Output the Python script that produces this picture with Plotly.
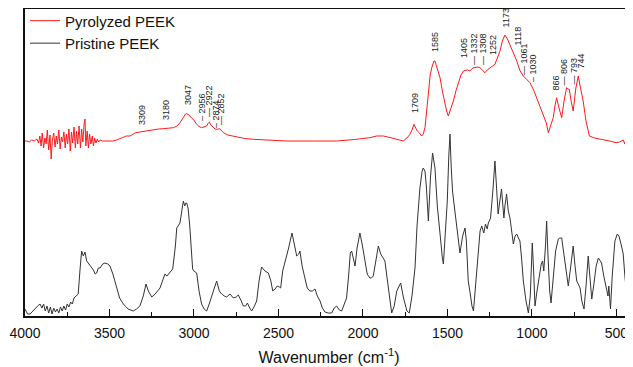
import plotly.graph_objects as go

# ---------------- data (wavenumber, arbitrary offset intensity) ----------------
pristine_wn = [4000, 3985, 3970, 3950, 3925, 3911, 3900, 3890, 3880, 3870, 3860, 3850, 3840, 3830, 3820, 3810,
               3800, 3790, 3780, 3770, 3760, 3750, 3740, 3730, 3720, 3710, 3700, 3685, 3675, 3665, 3655, 3645,
               3635, 3625, 3615, 3605, 3595, 3585, 3576, 3566, 3556, 3540, 3527, 3510, 3497, 3480, 3458, 3440,
               3418, 3390, 3359, 3340, 3320, 3300, 3284, 3270, 3250, 3230, 3201, 3180, 3172, 3160, 3145, 3126,
               3110, 3102, 3083, 3070, 3063, 3055, 3048, 3043, 3035, 3025, 3020, 3008, 3000, 2984, 2970, 2955,
               2940, 2925, 2910, 2895, 2880, 2866, 2850, 2836, 2820, 2807, 2787, 2767, 2750, 2738, 2720, 2708,
               2695, 2684, 2670, 2659, 2645, 2629, 2615, 2600, 2580, 2560, 2545, 2534, 2520, 2507, 2495, 2487,
               2475, 2462, 2440, 2420, 2405, 2392, 2380, 2373, 2360, 2343, 2330, 2314, 2300, 2284, 2270, 2254,
               2240, 2225, 2205, 2185, 2170, 2156, 2140, 2126, 2110, 2097, 2085, 2075, 2067, 2055, 2047, 2035,
               2018, 2005, 1988, 1975, 1959, 1950, 1939, 1925, 1909, 1895, 1880, 1870, 1855, 1840, 1830, 1815,
               1800, 1777, 1760, 1740, 1726, 1710, 1700, 1692, 1680, 1663, 1650, 1643, 1633, 1625, 1613, 1600,
               1588, 1580, 1574, 1560, 1545, 1530, 1524, 1515, 1501, 1492, 1485, 1478, 1470, 1456, 1440, 1426,
               1410, 1396, 1388, 1377, 1365, 1355, 1346, 1335, 1317, 1307, 1297, 1285, 1275, 1265, 1258, 1245,
               1230, 1219, 1210, 1200, 1190, 1180, 1172, 1166, 1160, 1150, 1140, 1130, 1120, 1110, 1100, 1090,
               1080, 1071, 1060, 1051, 1035, 1021, 1010, 998, 990, 982, 970, 953, 945, 937, 930, 920,
               913, 905, 895, 887, 875, 860, 844, 835, 824, 810, 795, 785, 770, 756, 745, 735,
               726, 715, 705, 692, 680, 667, 660, 650, 646, 635, 620, 607, 598, 588, 575, 559,
               550, 545, 535, 525, 509, 495, 485, 470, 460, 450, 440, 430, 420, 410, 402]
pristine_int = [7, 2, 2, 6, 10, 12, 8, 12, 5, 10, 3, 9, 2, 8, 4, 7,
                3, 9, 5, 10, 6, 12, 9, 14, 12, 18, 20, 22, 45, 65, 60, 64,
                55, 53, 50, 48, 46, 42, 43, 48, 48, 52, 53, 52, 50, 42, 28, 18,
                12, 7, 5, 7, 10, 20, 32, 25, 19, 22, 28, 38, 42, 40, 43, 47,
                70, 88, 93, 108, 115, 110, 113, 113, 108, 90, 78, 47, 45, 43, 25, 12,
                7, 5, 12, 20, 30, 35, 25, 22, 20, 19, 22, 18, 19, 21, 15, 10,
                10, 13, 8, 5, 9, 15, 35, 49, 45, 43, 35, 25, 27, 30, 29, 28,
                45, 53, 68, 83, 70, 60, 62, 65, 50, 37, 28, 25, 25, 27, 20, 15,
                8, 4, 3, 3, 8, 10, 6, 5, 12, 18, 40, 63, 65, 55, 50, 68,
                83, 72, 55, 42, 38, 38, 40, 55, 70, 62, 57, 55, 35, 15, 3, 10,
                25, 33, 18, 5, 3, 20, 40, 48, 90, 128, 145, 148, 145, 130, 95, 140,
                163, 155, 148, 110, 80, 58, 52, 80, 115, 160, 182, 150, 125, 105, 85, 63,
                80, 88, 75, 35, 22, 10, 5, 30, 65, 85, 90, 83, 92, 87, 93, 98,
                128, 155, 130, 102, 115, 127, 110, 98, 110, 122, 105, 98, 85, 72, 80, 82,
                78, 75, 55, 35, 15, 3, 20, 73, 45, 10, 25, 45, 52, 55, 45, 70,
                95, 60, 25, 13, 35, 65, 77, 78, 78, 60, 40, 30, 50, 70, 50, 35,
                32, 28, 15, 7, 30, 60, 45, 22, 17, 30, 50, 58, 55, 53, 40, 28,
                20, 30, 7, 40, 75, 82, 80, 70, 62, 40, 22, 40, 47, 42, 38]

pyro_wn = [4000, 3990, 3975, 3960, 3945, 3930, 3920, 3912, 3905, 3898, 3890, 3882, 3875, 3868, 3860, 3852,
           3845, 3838, 3830, 3822, 3815, 3808, 3800, 3792, 3785, 3778, 3770, 3762, 3755, 3748, 3740, 3732,
           3725, 3718, 3710, 3702, 3695, 3688, 3680, 3672, 3665, 3658, 3650, 3645, 3640, 3632, 3625, 3618,
           3610, 3602, 3595, 3588, 3580, 3572, 3565, 3555, 3540, 3520, 3500, 3480, 3458, 3430, 3400, 3379,
           3350, 3320, 3290, 3260, 3241, 3210, 3182, 3150, 3122, 3100, 3083, 3065, 3050, 3043, 3030, 3015,
           3004, 2985, 2970, 2955, 2940, 2925, 2915, 2909, 2900, 2890, 2875, 2862, 2852, 2846, 2835, 2826,
           2800, 2747, 2700, 2649, 2550, 2451, 2300, 2156, 2050, 1959, 1920, 1880, 1840, 1801, 1780, 1761,
           1740, 1722, 1710, 1698, 1688, 1678, 1665, 1653, 1643, 1633, 1623, 1613, 1603, 1593, 1580, 1574,
           1565, 1555, 1544, 1530, 1515, 1505, 1495, 1485, 1475, 1465, 1450, 1436, 1420, 1405, 1396, 1380,
           1367, 1350, 1337, 1320, 1308, 1293, 1278, 1265, 1249, 1235, 1219, 1205, 1189, 1175, 1160, 1145,
           1130, 1110, 1090, 1070, 1051, 1030, 1012, 990, 972, 950, 933, 915, 903, 890, 874, 864,
           854, 840, 824, 810, 795, 787, 779, 768, 756, 740, 726, 715, 697, 680, 660, 630,
           580, 540, 502, 480, 460, 450, 442, 435, 428, 420, 410, 402]
pyro_int = [175, 175, 174, 176, 175, 177, 173, 180, 170, 183, 168, 178, 172, 186, 166, 181,
            157, 176, 183, 169, 180, 172, 186, 167, 179, 174, 184, 168, 182, 172, 187, 165,
            184, 173, 189, 168, 185, 172, 190, 168, 187, 174, 192, 197, 170, 185, 168, 182,
            172, 180, 170, 178, 173, 177, 174, 176, 175, 175, 175, 175, 176, 178, 180, 180,
            183, 184, 185, 185.7, 186, 187, 187.3, 188, 188.3, 190, 193.3, 198, 202, 202.3, 201, 198,
            196.7, 192, 189.5, 188.3, 189, 190, 193, 194, 191, 189, 187, 186.7, 187.5, 187.3, 185, 183.3,
            181, 179, 177.5, 176.7, 175.5, 175, 175, 175, 176.5, 178.3, 180, 180, 178.5, 176.7, 175.5, 175,
            178, 181.7, 186, 191.7, 188, 185, 183, 180, 182, 188.3, 205, 221.7, 240, 248.3, 255, 255,
            250, 245, 238.3, 225, 211.7, 205, 200, 205, 210, 215, 225, 233.3, 241, 245, 245.7, 246,
            245, 248, 248.3, 249, 248.3, 246, 243.3, 246, 248.3, 250, 251.7, 258, 265, 275, 281, 277,
            271.7, 263, 255, 245, 240, 236, 233.3, 226, 218.3, 210, 201.7, 193, 183.3, 190, 198.3, 210,
            218.3, 208, 198.3, 215, 228.3, 227, 226.7, 215, 205, 228, 240, 230, 215, 195, 180, 178,
            176.7, 175, 173.3, 174, 176, 172, 178.3, 170, 182, 174, 183, 180]

peak_labels = ["3309", "3180", "3047", "2956", "2922", "2874", "2852", "1709", "1585", "1405", "1332",
               "1308", "1252", "1173", "1118", "1061", "1030", "866", "806", "793", "744"]
label_prefix = ["", "", "", "– ", "— ", "– ", "— ", "", "", "", "— ",
                "— ", "", "", "", "— ", "– ", "", "— ", "— ", ""]
# label anchor positions (wavenumber) and bottom heights (intensity units)
label_x = [3308, 3166, 3036, 2953, 2911, 2870, 2840, 1692, 1574, 1402, 1343,
           1290, 1231, 1154, 1083, 1047, 994, 858, 811, 757, 710]
label_y = [190, 195, 210, 194, 198, 187, 190, 202, 263, 257, 250,
           250, 260, 288, 270, 240, 233, 225, 230, 230, 247]

series_names = ["Pyrolyzed PEEK", "Pristine PEEK"]
x_ticks = [4000, 3500, 3000, 2500, 2000, 1500, 1000, 500]

FONT = "Liberation Sans, Arial, sans-serif"

fig = go.Figure()
fig.add_trace(go.Scatter(x=pyro_wn, y=pyro_int, mode="lines", name=series_names[0],
                         line=dict(color="#ff1a1a", width=1)))
fig.add_trace(go.Scatter(x=pristine_wn, y=pristine_int, mode="lines", name=series_names[1],
                         line=dict(color="#333333", width=1)))

for lab, pre, lx, ly in zip(peak_labels, label_prefix, label_x, label_y):
    fig.add_annotation(x=lx, y=ly, xref="x", yref="y", text=pre + lab, textangle=-90,
                       showarrow=False, xanchor="center", yanchor="bottom",
                       font=dict(family=FONT, size=9, color="#222"), borderpad=0)

# page has an 8px body margin, so the figure is sized to fill the rest of the window
fig.update_layout(
    width=625, height=359,
    margin=dict(l=17, r=0, t=1, b=51, autoexpand=False),
    paper_bgcolor="white", plot_bgcolor="white",
    font=dict(family=FONT, color="#111"),
    showlegend=True,
    legend=dict(x=0.0, y=1.015, xanchor="left", yanchor="top", bgcolor="rgba(0,0,0,0)",
                font=dict(family=FONT, size=15, color="#111"), tracegroupgap=0,
                itemwidth=30),
    xaxis=dict(range=[4000, 402], tickvals=x_ticks, ticktext=[str(t) for t in x_ticks],
               automargin=False,
               ticks="inside", ticklen=7, tickwidth=1.2, tickcolor="#111",
               ticklabelstandoff=3,
               showline=True, linecolor="#111", linewidth=1.5, mirror=True,
               showgrid=False, zeroline=False,
               minor=dict(dtick=250, ticks="inside", ticklen=4, tickwidth=1.2, tickcolor="#111",
                          showgrid=False),
               tickfont=dict(family=FONT, size=14, color="#111"),
               title=dict(text="Wavenumber (cm<sup>-1</sup>)", font=dict(family=FONT, size=16, color="#111"),
                          standoff=12)),
    yaxis=dict(range=[0, 307], showticklabels=False, ticks="", showgrid=False, zeroline=False,
               automargin=False,
               showline=True, linecolor="#111", linewidth=1.5),
)

fig.write_html("out.html")
